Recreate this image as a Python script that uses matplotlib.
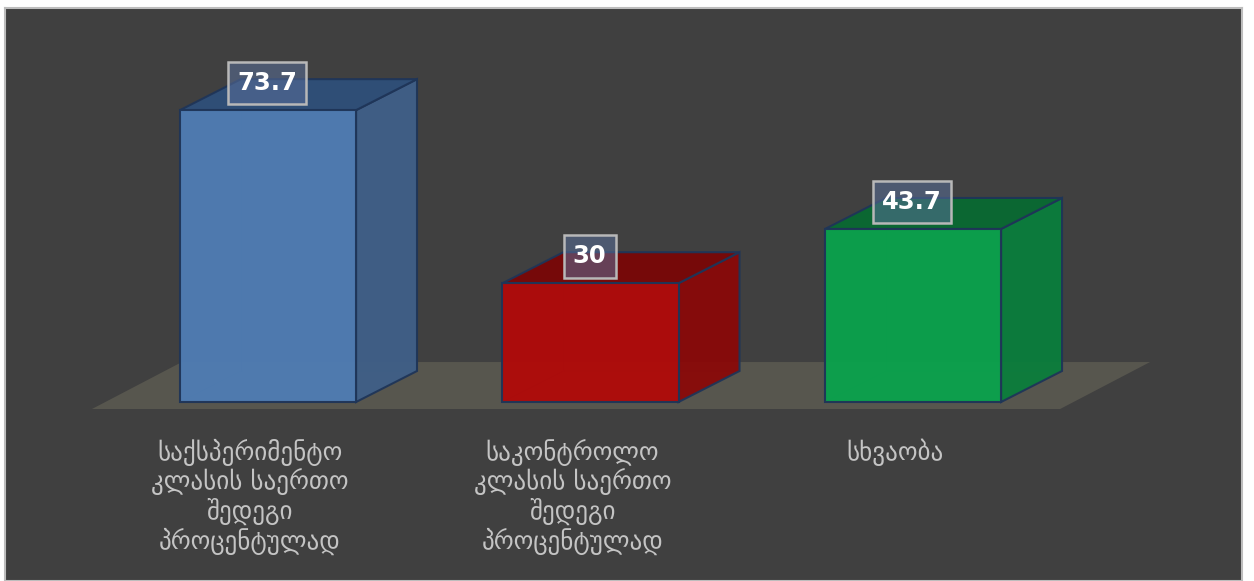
import numpy as np
import matplotlib.pyplot as plt
from matplotlib.patches import Polygon, Rectangle

categories = [
    "საქსპერიმენტო\nკლასის საერთო\nშედეგი\nპროცენტულად",
    "საკონტროლო\nკლასის საერთო\nშედეგი\nპროცენტულად",
    "სხვაობა",
]
values = [73.7, 30, 43.7]
value_labels = ["73.7", "30", "43.7"]

front_colors = ["#4f7cb3", "#b00a0a", "#0aa24c"]
side_colors = ["#3f5f88", "#8a0909", "#0a7e3c"]
top_colors = ["#2f4f7a", "#7a0606", "#086a32"]

bar_w = 0.546
dx, dy = 0.189, 7.83          # bar depth offset
fdx, fdy = 0.279, 11.87       # floor depth offset

fig = plt.figure(figsize=(12.54, 5.81), dpi=100, facecolor="white")
ax = fig.add_axes([5 / 1254, 0, 1237 / 1254, 1 - 8 / 581])
ax.set_facecolor("#404040")
ax.set_xlim(-0.8155, 3.020)
ax.set_ylim(-45.2, 99.5)
ax.set_xticks([])
ax.set_yticks([])
for s in ax.spines.values():
    s.set_color("#bdbdbd")
    s.set_linewidth(1.5)

# floor
fy = -1.77
fx0, fx1 = -0.546, 2.456
floor = Polygon([(fx0, fy), (fx1, fy), (fx1 + fdx, fy + fdy), (fx0 + fdx, fy + fdy)],
                closed=True, facecolor="#57564e", edgecolor="none", zorder=1)
ax.add_patch(floor)

edge = "#1f3558"
for i, v in enumerate(values):
    x0 = i - bar_w / 2
    x1 = i + bar_w / 2
    # hidden back edges, faint
    ax.plot([x0, x0 + dx, x1 + dx], [0, dy, dy], color=edge, lw=0.8, alpha=0.25, zorder=2)
    ax.plot([x0 + dx, x0 + dx], [dy, v + dy], color=edge, lw=0.8, alpha=0.25, zorder=2)
    side = Polygon([(x1, 0), (x1 + dx, dy), (x1 + dx, v + dy), (x1, v)], closed=True,
                   facecolor=side_colors[i], edgecolor=edge, lw=1.5, alpha=0.95, zorder=3)
    top = Polygon([(x0, v), (x1, v), (x1 + dx, v + dy), (x0 + dx, v + dy)], closed=True,
                  facecolor=top_colors[i], edgecolor=edge, lw=1.5, alpha=0.95, zorder=3)
    front = Rectangle((x0, 0), bar_w, v, facecolor=front_colors[i], edgecolor=edge,
                      lw=1.5, alpha=0.96, zorder=4)
    ax.add_patch(side)
    ax.add_patch(top)
    ax.add_patch(front)

    ax.text(i - 0.003, v + 6.8, value_labels[i], ha="center", va="center",
            fontsize=17.5, fontweight="bold", color="white", zorder=6,
            bbox=dict(boxstyle="square,pad=0.38", facecolor=(0.35, 0.43, 0.6, 0.55),
                      edgecolor="#b8b8b8", linewidth=1.8))

    ax.text(i - 0.056, -9.3, categories[i], ha="center", va="top", fontsize=18,
            color="#c4c4c4", linespacing=1.12, family="DejaVu Sans", zorder=5)

fig.savefig("out.png", dpi=100, facecolor="white")
